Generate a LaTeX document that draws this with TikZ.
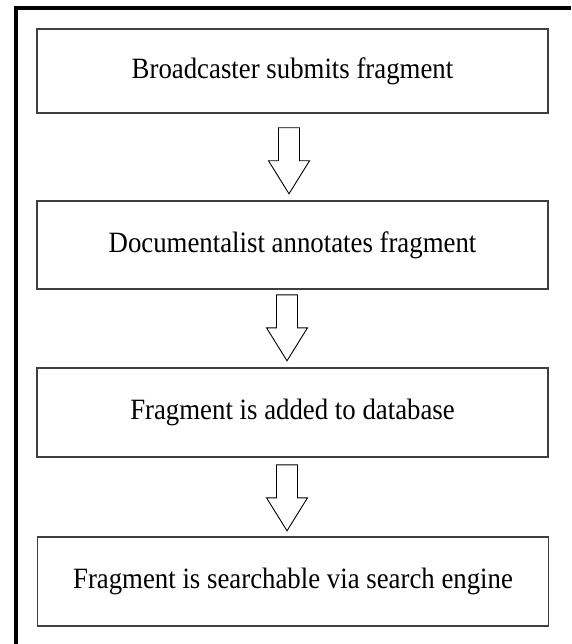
\documentclass[tikz,border=0pt]{standalone}
\usepackage{fontspec}
\setmainfont{Liberation Serif}
\usetikzlibrary{calc}
\definecolor{boxgray}{HTML}{404040}
\tikzset{
  stepbox/.style={draw=boxgray, line width=1.6pt, minimum width=511pt, inner sep=0pt,
    font=\fontsize{26.8}{30}\selectfont, text=black},
  downarrow/.pic={\draw[line width=0.9pt, line join=miter, fill=white]
    (-10.5,0) -- (10.5,0) -- (10.5,33) -- (20.5,33) -- (0,66) -- (-20.5,33) -- (-10.5,33) -- cycle;}
}
\newcommand{\tallt}[1]{\scalebox{1}[1.1]{#1}}
\begin{document}
\begin{tikzpicture}[x=1pt,y=-1pt]
\useasboundingbox (0,0) rectangle (571,644);
% outer frame
\draw[line width=4pt] (16,644) -- (16,8) -- (571,8);
% boxes
\node[stepbox, minimum height=84pt] (b1) at (292.5,71) {\tallt{Broadcaster submits fragment}};
\node[stepbox, minimum height=88pt] (b2) at (292.5,245) {\tallt{Documentalist annotates fragment}};
\node[stepbox, minimum height=89pt] (b3) at (292.5,412.5) {\tallt{Fragment is added to database}};
\node[stepbox, minimum height=89pt] (b4) at (293,581.5) {\tallt{Fragment is searchable via search engine}};
% arrows
\path (b1.south) ++(-3.5,14) pic {downarrow};
\path (b2.south) ++(-5.5,5) pic {downarrow};
\path (b3.south) ++(-5.5,7) pic {downarrow};
\end{tikzpicture}
\end{document}
